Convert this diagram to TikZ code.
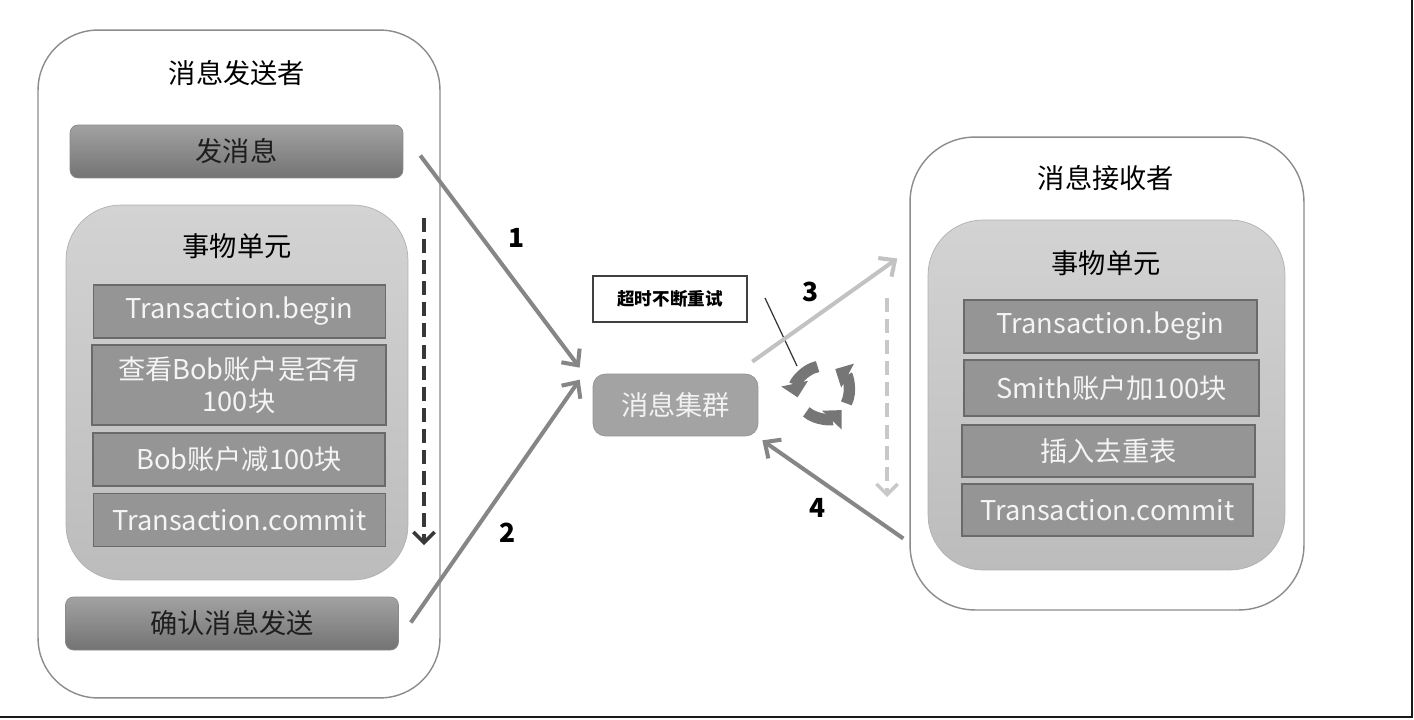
\documentclass[tikz,border=0pt]{standalone}
\usepackage{fontspec}
\setmainfont{Noto Sans CJK SC}
\usepackage{tikz}
\usetikzlibrary{arrows.meta}

\definecolor{boxline}{HTML}{8C8C8C}
\definecolor{bartop}{HTML}{A2A2A2}
\definecolor{barbot}{HTML}{737373}
\definecolor{barline}{HTML}{8A8A8A}
\definecolor{bartext}{HTML}{1E1E1E}
\definecolor{unittop}{HTML}{D3D3D3}
\definecolor{unitbot}{HTML}{BCBCBC}
\definecolor{unitline}{HTML}{B0B0B0}
\definecolor{rowfill}{HTML}{959595}
\definecolor{rowline}{HTML}{6A6A6A}
\definecolor{rowtext}{HTML}{F4F4F4}
\definecolor{flowgray}{HTML}{868686}
\definecolor{flowlight}{HTML}{C2C2C2}
\definecolor{cyclegray}{HTML}{767676}

\begin{document}
\begin{tikzpicture}[x=0.02cm, y=-0.02cm,
    every node/.style={font=\fontsize{15.5pt}{18pt}\selectfont},
    party/.style={draw=boxline, line width=0.8pt, fill=white, rounded corners=1.2cm},
    bar/.style={draw=barline, rounded corners=0.16cm, top color=bartop, bottom color=barbot,
        text=bartext, minimum width=6.66cm, minimum height=1.06cm},
    unit/.style={draw=unitline, top color=unittop, bottom color=unitbot, rounded corners=1.1cm},
    row/.style={draw=rowline, line width=1pt, fill=rowfill, text=rowtext, align=center,
        minimum width=5.84cm, minimum height=1.06cm, inner sep=1pt},
    flow/.style={draw=flowgray, line width=2.3pt, -{Straight Barb[length=7pt,width=13pt]}},
    order/.style={line width=2pt, dash pattern=on 8pt off 4pt, -{Straight Barb[length=6pt,width=12pt]}},
    num/.style={font=\fontsize{15pt}{18pt}\selectfont\bfseries},
]
\useasboundingbox (0,0) rectangle (1414,720);

% sender
\node[party, minimum width=8.04cm, minimum height=13.36cm] (sender) at (239,364) {};
\node (sendertitle) at (237,73) {消息发送者};
\node[bar] (send) at (236.5,151.5) {发消息};
\node[unit, minimum width=6.84cm, minimum height=7.5cm] (unitL) at (237,392.5) {};
\node (unitLtitle) at (237,246) {事物单元};
\node[row] (beginL) at (239.5,311.5) {Transaction.begin};
\node[row, minimum width=5.88cm, minimum height=1.6cm] (check) at (239,385) {查看Bob账户是否有\\100块};
\node[row] (debit) at (239,459.5) {Bob账户减100块};
\node[row] (commitL) at (239.5,520) {Transaction.commit};
\node[bar] (ack) at (232,623.5) {确认消息发送};
\coordinate (dl1) at (424,218);
\coordinate (dl2) at (424,545);
\draw[order, draw=black!78] (dl1) -- (dl2);

% cluster
\node[draw=flowgray!90, fill=black!36, text=white!95!black, rounded corners=0.25cm,
    minimum width=3.3cm, minimum height=1.24cm] (cluster) at (675.5,405) {消息集群};
\node[draw=black!75, line width=0.8pt, fill=white, minimum width=3.08cm, minimum height=0.92cm,
    font=\fontsize{10pt}{12pt}\selectfont\bfseries] (retry) at (670,299) {超时不断重试};
\coordinate (cyc) at (823,392);
\coordinate (tip1) at (765,298);
\coordinate (tip2) at (797,366);
\draw[black!80, line width=0.7pt] (tip1) -- (tip2);
\foreach \a/\b in {102/192, 230/316, -26/62}
  \draw[cyclegray, line width=6.5pt, -{Triangle[length=8pt,width=15pt]}]
    ([shift={(\a:0.52cm)}]cyc) arc[start angle=\a, end angle=\b, radius=0.52cm];

% receiver
\node[party, rounded corners=1.3cm, minimum width=7.88cm, minimum height=9.46cm] (receiver) at (1107,373.5) {};
\node (receivertitle) at (1106,178) {消息接收者};
\node[unit, minimum width=7.14cm, minimum height=7cm] (unitR) at (1106.5,395) {};
\node (unitRtitle) at (1106,263) {事物单元};
\node[row, minimum width=5.86cm] (beginR) at (1110.5,326.5) {Transaction.begin};
\node[row, minimum width=5.9cm, minimum height=1.12cm] (credit) at (1111.5,388) {Smith账户加100块};
\node[row, minimum width=5.86cm, minimum height=1.04cm] (dedup) at (1108.5,451) {插入去重表};
\node[row, minimum width=5.82cm, minimum height=1.04cm] (commitR) at (1107.5,510) {Transaction.commit};
\coordinate (dr1) at (887,298);
\coordinate (dr2) at (887,497);
\draw[order, draw=flowlight!90] (dr1) -- (dr2);

% flows
\draw[flow] ([shift={(17,4)}]send.east) -- ([shift={(-13,-6)}]cluster.north west);
\draw[flow] ([shift={(12,-1)}]ack.east) -- ([shift={(-13,6)}]cluster.north west);
\draw[flow, draw=flowlight] ([shift={(-6,-12)}]cluster.north east) -- ([shift={(-12,-115)}]receiver.west);
\draw[flow] ([shift={(-6,165)}]receiver.west) -- ([shift={(4,4)}]cluster.south east);
\node[num] (n1) at (517,238) {1};
\node[num] (n2) at (508,533) {2};
\node[num] (n3) at (811,292) {3};
\node[num] (n4) at (818,508) {4};

% frame
\draw[black!90, line width=1.5pt] (0,717) -- (1412,717) -- (1412,0);
\end{tikzpicture}
\end{document}
